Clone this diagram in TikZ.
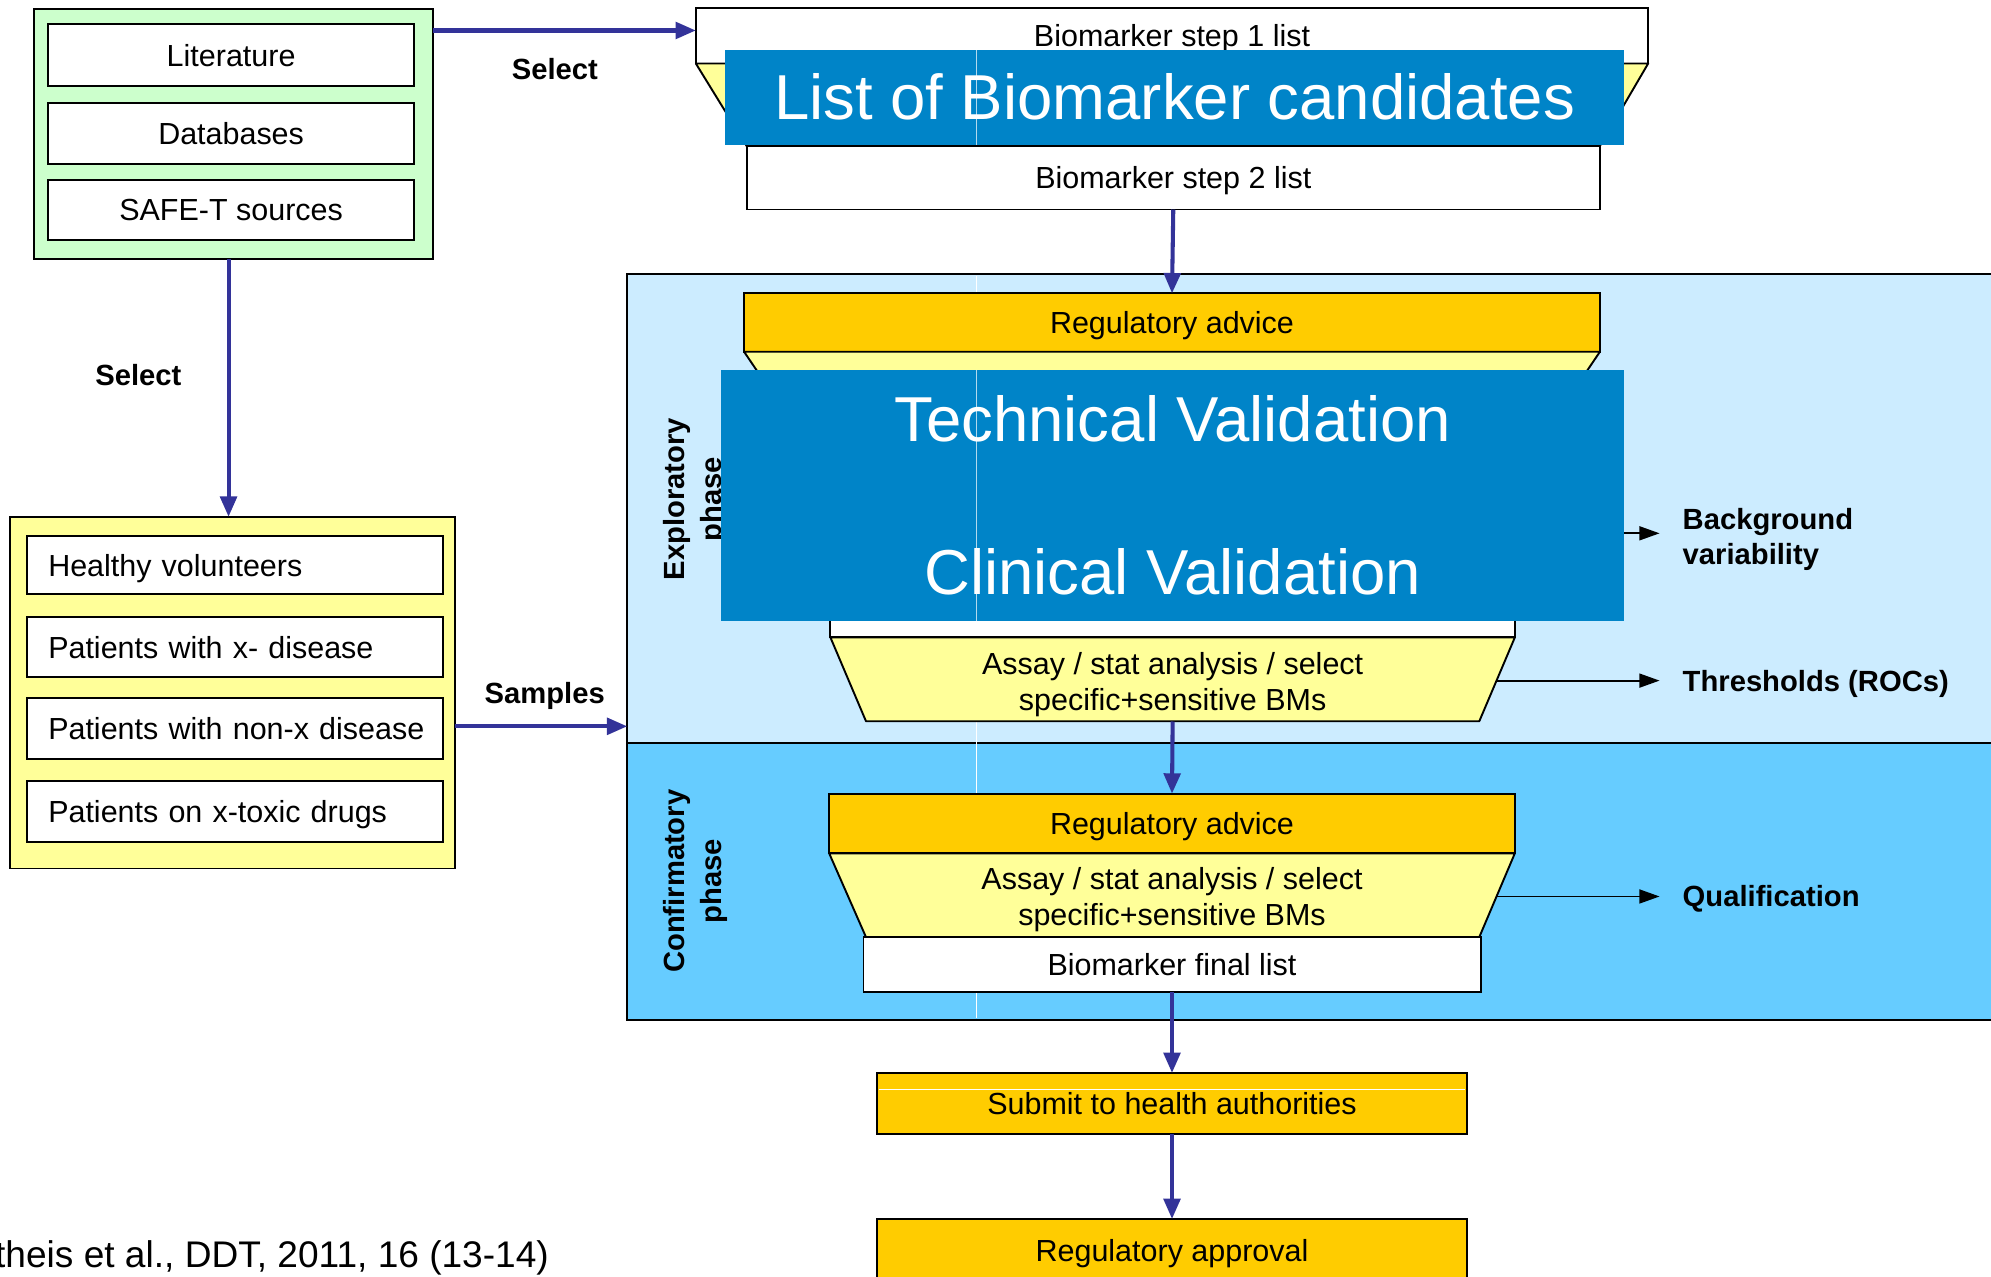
\documentclass[tikz,border=0pt]{standalone}
\usepackage{fontspec}
\setmainfont{Liberation Sans}
\usepackage{tikz}
\usetikzlibrary{positioning}
\usetikzlibrary{arrows.meta}
\usepackage{xcolor}
\definecolor{srcgreen}{HTML}{CCFFCC}
\definecolor{popyellow}{HTML}{FFFF99}
\definecolor{explblue}{HTML}{CCECFF}
\definecolor{confblue}{HTML}{66CCFF}
\definecolor{overblue}{HTML}{0084C8}
\definecolor{advgold}{HTML}{FFCC00}
\definecolor{flowblue}{HTML}{333399}
\newcommand\txtsize[2]{\fontsize{#1}{#2}\selectfont}

\begin{document}
\begin{tikzpicture}[x=1pt, y=-1pt,
		bmframe/.style={draw=black, line width=1.5pt, inner sep=0pt, outer sep=0pt},
		bmwhite/.style={bmframe, fill=white, font=\txtsize{24}{28}, text depth=0pt},
		bmgold/.style={bmframe, fill=advgold, font=\txtsize{24}{28}, text depth=0pt},
		bmrow/.style={bmframe, fill=white, font=\txtsize{24}{28}, text depth=0pt, text width=294pt, inner xsep=17pt, align=left},
		bmcover/.style={fill=overblue, text=white, inner sep=0pt, font=\txtsize{50}{121}, align=center},
		bmfunnel/.style={draw=black, line width=1.5pt, fill=popyellow, line join=round},
		bmflow/.style={draw=flowblue, line width=3.2pt, -{Triangle[length=16pt, width=13pt]}},
		bmside/.style={draw=black, line width=1.5pt, -{Triangle[length=16pt, width=11pt]}},
		bmtag/.style={font=\bfseries\txtsize{23}{28}, align=left},
		bmphase/.style={rotate=90, font=\bfseries\txtsize{23}{29}, align=center}]
			\useasboundingbox (0,0) rectangle (1568,1005);
			\node[bmframe, fill=explblue, minimum width=1096pt, minimum height=369pt] (expl) at (1042,400.5) {};
			\node[bmframe, fill=confblue, minimum width=1096pt, minimum height=218pt] (conf) at (1042,694) {};
			\draw[white, line width=0.8pt] (769,217) -- (769,802);
			\node[bmphase] (explab) at (547.5,393) {Exploratory\\phase};
			\node[bmphase] (conflab) at (547.5,694) {Confirmatory\\phase};
			\node[bmframe, fill=srcgreen, minimum width=314pt, minimum height=197pt] (src) at (184,105.5) {};
			\node[bmwhite, minimum width=288pt, minimum height=49pt] (lit) at (182,43.5) {Literature};
			\node[bmwhite, minimum width=288pt, minimum height=48pt] (db) at (182,105) {Databases};
			\node[bmwhite, minimum width=288pt, minimum height=47pt] (safe) at (182,165.5) {SAFE-T sources};
			\node[bmframe, fill=popyellow, minimum width=350pt, minimum height=277pt] (pop) at (183,545.5) {};
			\node[bmrow, minimum height=46pt] (healthy) at (185,445) {Healthy volunteers};
			\node[bmrow, minimum height=47pt] (xdis) at (185,509.5) {Patients with x- disease};
			\node[bmrow, minimum height=48pt] (nonx) at (185,574) {\mbox{Patients with non-x disease}};
			\node[bmrow, minimum height=48pt] (toxic) at (185,639) {Patients on x-toxic drugs};
			\node[bmwhite, minimum width=750pt, minimum height=44pt] (step1) at (923,28) {Biomarker step 1 list};
			\filldraw[bmfunnel] (548,50) -- (1298,50) -- (1260,115) -- (588,115) -- cycle;
			\node[bmwhite, minimum width=672pt, minimum height=50pt] (step2) at (924,140) {Biomarker step 2 list};
			\node[bmcover, minimum width=708pt, minimum height=75pt] (cands) at (925,76.5) {List of Biomarker candidates};
			\node[bmgold, minimum width=674pt, minimum height=46pt] (reg1) at (923,254) {Regulatory advice};
			\filldraw[bmfunnel] (586,277) -- (1260,277) -- (1214,345) -- (632,345) -- cycle;
			\node[bmwhite, minimum width=539pt, minimum height=42pt] (hidlist) at (923.5,481) {};
			\filldraw[bmfunnel] (654,502) -- (1193,502) -- (1165,568) -- (682,568) -- cycle;
			\node[inner sep=0pt, minimum width=539pt, minimum height=58pt, font=\txtsize{24}{28}, align=center] (assay1) at (923.5,539) {Assay / stat analysis / select\\specific+sensitive BMs};
			\node[bmcover, minimum width=711pt, minimum height=198pt] (tcv) at (923.5,390) {Technical Validation\\Clinical Validation};
			\draw[white, opacity=0.7, line width=0.6pt] (769,39) -- (769,114) (769,291) -- (769,489);
			\node[bmgold, minimum width=540pt, minimum height=47pt] (reg2) at (923,648.5) {Regulatory advice};
			\filldraw[bmfunnel] (653,672) -- (1193,672) -- (1165,738) -- (682,738) -- cycle;
			\node[inner sep=0pt, minimum width=540pt, minimum height=59pt, font=\txtsize{24}{28}, align=center] (assay2) at (923,708.5) {Assay / stat analysis / select\\specific+sensitive BMs};
			\node[bmwhite, minimum width=486pt, minimum height=43pt] (final) at (923,759.5) {Biomarker final list};
			\node[bmgold, minimum width=464pt, minimum height=48pt] (submit) at (923,869) {Submit to health authorities};
			\draw[white, line width=0.8pt] ([xshift=1pt, yshift=-13pt]submit.north west) -- ([xshift=-1pt, yshift=-13pt]submit.north east);
			\node[bmgold, minimum width=464pt, minimum height=50pt] (approv) at (923,985) {Regulatory approval};
			\node[bmtag, anchor=west, inner xsep=18pt] (bgvar) at (1307,425) {Background\\variability};
			\node[bmtag, anchor=west, inner xsep=18pt] (thresh) at (1307,539) {Thresholds (ROCs)};
			\node[bmtag, anchor=west, inner xsep=18pt] (qual) at (1307,708) {Qualification};
			\node[bmtag] (sel1) at (437,54) {Select};
			\node[bmtag] (sel2) at (109,295) {Select};
			\node[bmtag] (samp) at (429,548) {Samples};
			\node[anchor=west, inner sep=0pt, font=\txtsize{29.2}{32}] (cite) at (-4,991) {theis et al., DDT, 2011, 16 (13-14)};
			\draw[bmflow] ([yshift=4pt]src.east |- step1.west) -- ([yshift=4pt]step1.west);
			\draw[bmflow] ([xshift=-4pt]src.south) -- ([xshift=-4pt]src.south |- pop.north);
			\draw[bmflow] ([yshift=-26.5pt]pop.east) -- ([yshift=-26.5pt]pop.east -| expl.west);
			\draw[bmflow] (step2.south) -- (reg1.north);
			\draw[bmflow] (assay1.south) -- (reg2.north);
			\draw[bmflow] (final.south) -- (submit.north);
			\draw[bmflow] (submit.south) -- (approv.north);
			\draw[bmside] ([yshift=5pt]tcv.east |- bgvar.west) -- ([yshift=5pt]bgvar.west);
			\draw[bmside] ([xshift=-14pt, yshift=3pt]assay1.east |- thresh.west) -- ([yshift=3pt]thresh.west);
			\draw[bmside] ([xshift=-14pt, yshift=2pt]assay2.east |- qual.west) -- ([yshift=2pt]qual.west);
\end{tikzpicture}
\end{document}
